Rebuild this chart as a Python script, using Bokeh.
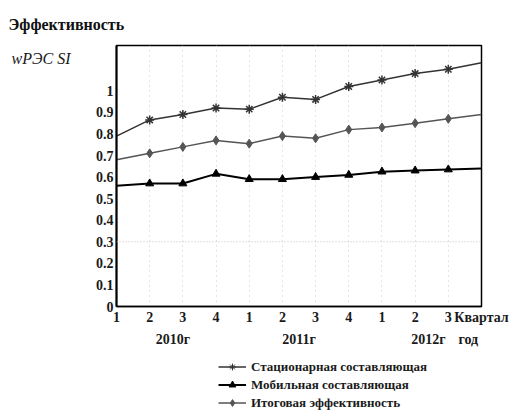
from bokeh.plotting import figure
from bokeh.models import (Legend, LegendItem, FixedTicker, Range1d, Span, LinearAxis, Title)
from bokeh.layouts import column
from bokeh.embed import file_html
from bokeh.resources import INLINE

quarters = ["1", "2", "3", "4", "1", "2", "3", "4", "1", "2", "3"]
unit_label = "Квартал"
years = ["2010г", "2011г", "2012г", "год"]
year_pos = [2.7, 6.5, 10.4, 11.6]
stationary = [0.79, 0.865, 0.89, 0.92, 0.915, 0.97, 0.96, 1.02, 1.05, 1.08, 1.10, 1.13]
total = [0.68, 0.71, 0.74, 0.77, 0.755, 0.79, 0.78, 0.82, 0.83, 0.85, 0.87, 0.89]
mobile = [0.56, 0.57, 0.57, 0.615, 0.59, 0.59, 0.60, 0.61, 0.625, 0.63, 0.635, 0.64]
y_ticks = [0, 0.1, 0.2, 0.3, 0.4, 0.5, 0.6, 0.7, 0.8, 0.9, 1]
names = ["Стационарная составляющая", "Мобильная составляющая", "Итоговая эффективность"]

xs = list(range(1, len(stationary) + 1))
SERIF = "Liberation Serif"

p = figure(frame_width=365, frame_height=261, output_backend="svg", toolbar_location=None,
           x_range=Range1d(1, 12), y_range=Range1d(0, 1.21),
           min_border_left=116, min_border_right=33, min_border_top=44, min_border_bottom=50)
p.outline_line_color = "black"
p.outline_line_width = 1.5

tick_pos = xs[:len(quarters)] + [12]
p.xaxis.ticker = FixedTicker(ticks=tick_pos)
p.xaxis.major_label_overrides = {x: q for x, q in zip(tick_pos, quarters + [unit_label])}
p.yaxis.ticker = FixedTicker(ticks=y_ticks)
p.yaxis.major_label_overrides = {t: ("0" if t == 0 else ("1" if t == 1 else f"{t:.1f}")) for t in y_ticks}

def style_axis(ax, size="14px", fstyle="bold"):
    ax.major_tick_line_color = None
    ax.minor_tick_line_color = None
    ax.major_tick_in = 0
    ax.major_tick_out = 0
    ax.minor_tick_in = 0
    ax.minor_tick_out = 0
    ax.major_label_text_font = SERIF
    ax.major_label_text_font_style = fstyle
    ax.major_label_text_font_size = size
    ax.major_label_text_color = "#1a1a1a"

style_axis(p.xaxis[0])
style_axis(p.yaxis[0])
p.yaxis.axis_line_width = 2
p.xaxis.axis_line_width = 1.5
p.xaxis.major_label_standoff = 3
p.yaxis.major_label_standoff = 3

yr_axis = LinearAxis(ticker=FixedTicker(ticks=year_pos),
                     major_label_overrides={x: y for x, y in zip(year_pos, years)})
style_axis(yr_axis)
yr_axis.axis_line_color = None
yr_axis.major_label_standoff = 4
p.add_layout(yr_axis, "below")

q_axis = LinearAxis(ticker=FixedTicker(ticks=[1.15]), major_label_overrides={1.15: "wРЭС SI"})
style_axis(q_axis, size="16px", fstyle="italic")
q_axis.axis_line_color = None
q_axis.major_label_standoff = 22
p.add_layout(q_axis, "left")

p.add_layout(Title(text="Эффективность", align="left", offset=-108, standoff=26,
                   text_font=SERIF, text_font_style="bold", text_font_size="16px",
                   text_color="#111111"), "above")

p.xgrid.ticker = FixedTicker(ticks=xs[1:11])
p.xgrid.grid_line_color = "#c8c8c8"
p.xgrid.grid_line_dash = "1 4"
p.ygrid.grid_line_color = None
p.add_layout(Span(location=0.3, dimension="width", line_color="#c0c0c0", line_dash="1 2", line_width=1))

styles = [
    dict(color="#333333", width=1.5, marker="asterisk", size=9),
    dict(color="black", width=2, marker="triangle", size=8),
    dict(color="#555555", width=1.5, marker="diamond", size=9),
]
series = [stationary, mobile, total]
for ys, st in zip(series, styles):
    p.line(xs, ys, line_color=st["color"], line_width=st["width"])
    p.scatter(xs[1:11], ys[1:11], marker=st["marker"], size=st["size"],
              fill_color=st["color"], line_color=st["color"],
              line_width=1.5 if st["marker"] == "asterisk" else 1)

# legend strip under the chart (its renderers carry the series, kept outside its visible range)
p2 = figure(width=514, height=55, output_backend="svg", toolbar_location=None,
            x_range=Range1d(1, 12), y_range=Range1d(10, 11),
            min_border_left=0, min_border_right=0, min_border_top=0, min_border_bottom=0)
p2.axis.visible = False
p2.grid.visible = False
p2.outline_line_color = None
items = []
for name, ys, st in zip(names, series, styles):
    rl = p2.line(xs, ys, line_color=st["color"], line_width=st["width"])
    rm = p2.scatter(xs, ys, marker=st["marker"], size=st["size"] - 2,
                    fill_color=st["color"], line_color=st["color"])
    items.append(LegendItem(label=name, renderers=[rl, rm]))
legend = Legend(items=items, location=(102, 0), padding=0, spacing=1, margin=0,
                border_line_color=None, background_fill_alpha=0,
                label_text_font=SERIF, label_text_font_style="bold", label_text_font_size="13px",
                label_text_color="#1a1a1a", glyph_width=28, glyph_height=17, label_height=17,
                label_standoff=5)
p2.add_layout(legend, "center")

layout = column(p, p2, spacing=0)
open("out.html", "w").write(file_html(layout, INLINE))
